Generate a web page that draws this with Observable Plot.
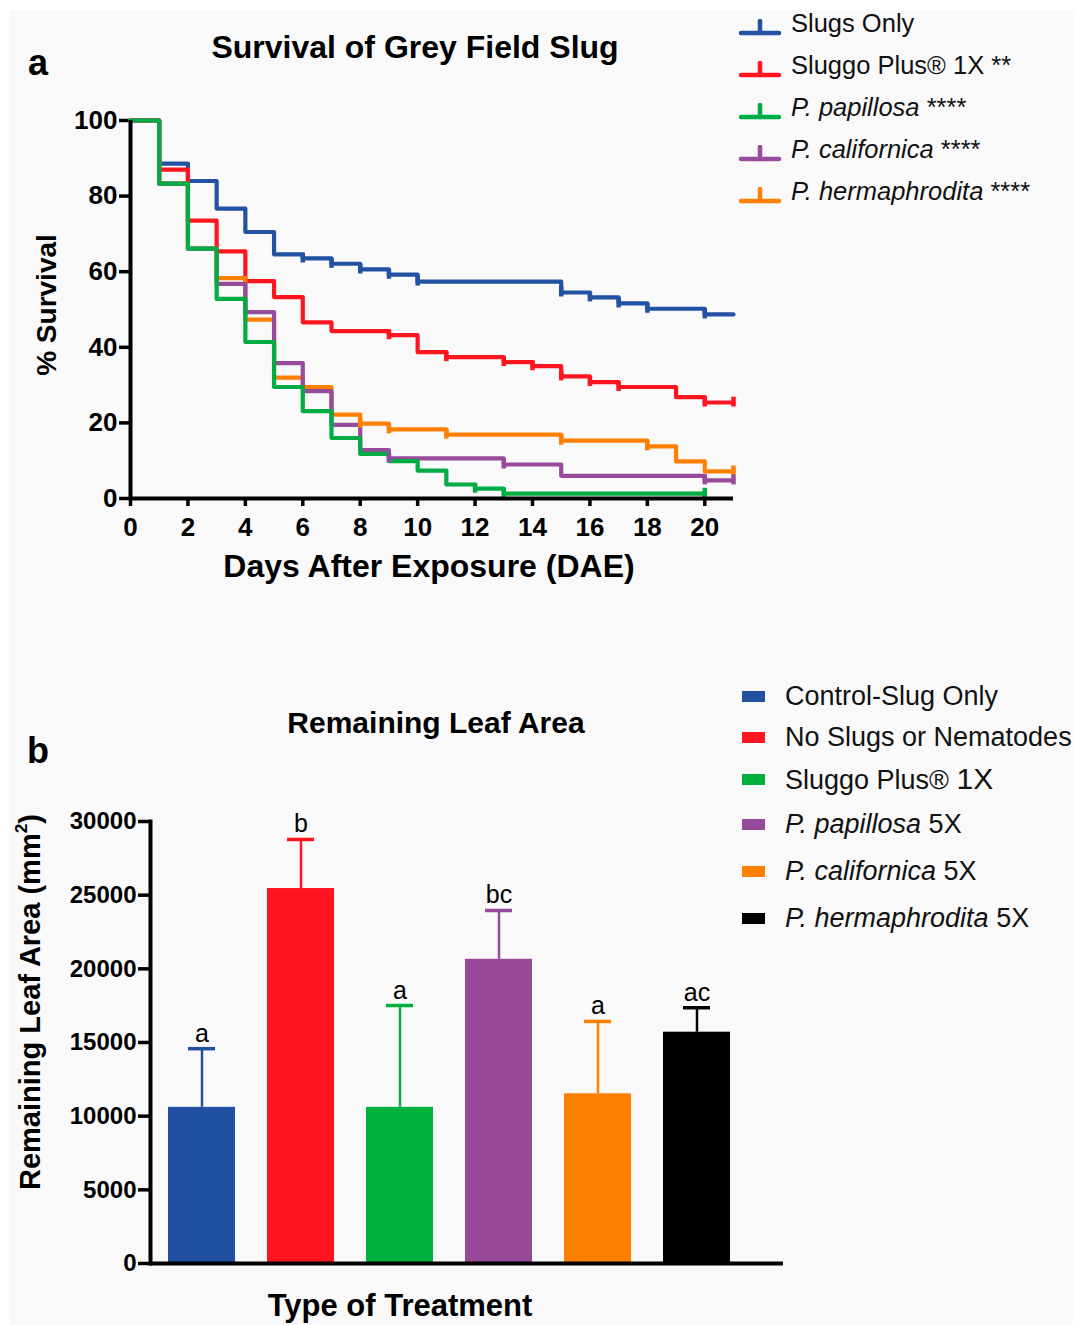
<!DOCTYPE html>
<html>
<head>
<meta charset="utf-8">
<script src="https://cdn.jsdelivr.net/npm/d3@7"></script>
<script src="https://cdn.jsdelivr.net/npm/@observablehq/plot@0.6"></script>
<style>
  body { margin: 0; background: #fff; font-family: Arial, "Liberation Sans", Helvetica, sans-serif; }
  #root { position: relative; width: 1073px; height: 1325px; overflow: hidden; background: #fff; }
  #bg { position: absolute; left: 9px; top: 10px; right: 0; bottom: 0; background: #f9f9fa; }
  .t { position: absolute; white-space: nowrap; line-height: 1; color: #000; transform: translate(-50%, -50%); }
  .rot { transform: translate(-50%, -50%) rotate(-90deg); }
  .lg { position: absolute; white-space: nowrap; line-height: 1; color: #111; transform: translateY(-50%); }
  .plotbox { position: absolute; }
</style>
</head>
<body>
<div id="root">
  <div id="bg"></div>
</div>
<script>
// ---------------- Panel a: survival data ----------------
const survSeries = ["Slugs Only", "Sluggo Plus® 1X", "P. papillosa", "P. californica", "P. hermaphrodita"];
const survSig = ["", "**", "****", "****", "****"];
const survColors = ["#2352a3", "#ff1520", "#00ac43", "#964b9b", "#ff8000"];

const slugsOnlyDays = [0, 1, 2, 3, 4, 5, 6, 7, 8, 9, 10, 15, 16, 17, 18, 20, 21];
const slugsOnlySurv = [100, 88.6, 84, 76.7, 70.5, 64.6, 63.5, 62.1, 60.6, 59.2, 57.4, 54.5, 53.2, 51.6, 50.2, 48.7, 48.7];
const slugsOnlyCensor = [6, 7, 8, 9, 10, 15, 16, 17, 18, 20];

const sluggoDays = [0, 1, 2, 3, 4, 5, 6, 7, 9, 10, 11, 13, 14, 15, 16, 17, 19, 20, 21];
const sluggoSurv = [100, 87, 73.5, 65.4, 57.5, 53.3, 46.6, 44.3, 43.2, 38.7, 37.4, 36.1, 35, 32.3, 30.8, 29.5, 26.8, 25.4, 25.4];
const sluggoCensor = [9, 11, 13, 14, 15, 16, 17, 20, 21];

const papillosaDays = [0, 1, 2, 3, 4, 5, 6, 7, 8, 9, 10, 11, 12, 13, 20];
const papillosaSurv = [100, 83.3, 66.1, 52.8, 41.4, 29.5, 23.1, 16, 11.8, 9.9, 7.4, 3.7, 2.6, 1.3, 1.3];
const papillosaCensor = [12, 13, 20];

const californicaDays = [0, 1, 2, 3, 4, 5, 6, 7, 8, 9, 13, 15, 20, 21];
const californicaSurv = [100, 83.3, 66.1, 56.8, 49.3, 35.8, 28.4, 19.5, 12.8, 10.6, 9, 6, 4.8, 4.8];
const californicaCensor = [9, 13, 20, 21];

const hermaphroditaDays = [0, 1, 2, 3, 4, 5, 6, 7, 8, 9, 11, 15, 18, 19, 20, 21];
const hermaphroditaSurv = [100, 83.3, 66.1, 58.3, 47.3, 32, 29.5, 22.2, 19.8, 18.3, 16.9, 15.3, 13.8, 9.8, 7.2, 7.2];
const hermaphroditaCensor = [8, 9, 11, 15, 18, 21];

const survXTicks = [0, 2, 4, 6, 8, 10, 12, 14, 16, 18, 20];
const survYTicks = [0, 20, 40, 60, 80, 100];

// ---------------- Panel b: leaf area data ----------------
const treatments = ["Control-Slug Only", "No Slugs or Nematodes", "Sluggo Plus® 1X", "P. papillosa 5X", "P. californica 5X", "P. hermaphrodita 5X"];
const leafMean = [10600, 25450, 10600, 20650, 11520, 15700];
const leafUpper = [14580, 28780, 17510, 23960, 16430, 17360];
const leafLetters = ["a", "b", "a", "bc", "a", "ac"];
const barColors = ["#2150a1", "#ff1420", "#00b03c", "#974a9a", "#ff7f00", "#000000"];
const leafYTicks = [0, 5000, 10000, 15000, 20000, 25000, 30000];

// ---------------- build tables ----------------
const survDays = [slugsOnlyDays, sluggoDays, papillosaDays, californicaDays, hermaphroditaDays];
const survVals = [slugsOnlySurv, sluggoSurv, papillosaSurv, californicaSurv, hermaphroditaSurv];
const survCensor = [slugsOnlyCensor, sluggoCensor, papillosaCensor, californicaCensor, hermaphroditaCensor];
const drawOrder = [0, 1, 4, 3, 2];

const survRows = [];
const censorRows = [];
for (const i of drawOrder) {
  survDays[i].forEach((d, j) => survRows.push({series: survSeries[i], day: d, surv: survVals[i][j]}));
  for (const c of survCensor[i]) {
    let v = survVals[i][0];
    survDays[i].forEach((d, j) => { if (d <= c) v = survVals[i][j]; });
    censorRows.push({series: survSeries[i], day: c, surv: v});
  }
}
const leafData = treatments.map((t, i) => ({treatment: t, mean: leafMean[i], upper: leafUpper[i], letter: leafLetters[i]}));

const FONT = 'Arial, "Liberation Sans", Helvetica, sans-serif';
const root = document.getElementById("root");

function addText(html, x, y, size, opts = {}) {
  const d = document.createElement("div");
  d.className = "t" + (opts.rot ? " rot" : "");
  d.style.left = x + "px";
  d.style.top = y + "px";
  d.style.fontSize = size + "px";
  d.style.fontWeight = opts.weight || "bold";
  d.innerHTML = html;
  root.appendChild(d);
}

// ---------------- Panel a plot ----------------
const plotA = Plot.plot({
  width: 760, height: 440,
  marginLeft: 130, marginRight: 27, marginTop: 20, marginBottom: 42,
  x: {domain: [0, 21]},
  y: {domain: [0, 100]},
  color: {domain: survSeries, range: survColors},
  style: {background: "transparent", fontFamily: FONT, fontSize: "26px", fontWeight: "bold", color: "#000", overflow: "visible"},
  marks: [
    Plot.axisX({ticks: survXTicks, tickSize: 8, tickPadding: 11, strokeWidth: 3.5, fontSize: 26, fontWeight: "bold", label: null, tickFormat: d => String(d)}),
    Plot.axisY({ticks: survYTicks, tickSize: 11, tickPadding: 2, strokeWidth: 3.5, fontSize: 26, fontWeight: "bold", label: null, tickFormat: d => String(d)}),
    Plot.line(survRows, {x: "day", y: "surv", z: "series", stroke: "series", strokeWidth: 4.2, curve: "step-after"}),
    Plot.ruleX(censorRows, {x: "day", y1: d => d.surv - 1.2, y2: d => d.surv + 1.4, stroke: "series", strokeWidth: 4.5}),
    Plot.ruleX([0], {strokeWidth: 4, stroke: "#000"}),
    Plot.ruleY([0], {strokeWidth: 4, stroke: "#000"})
  ]
});
const boxA = document.createElement("div");
boxA.className = "plotbox";
boxA.style.left = "0px"; boxA.style.top = "100px";
boxA.appendChild(plotA);
root.appendChild(boxA);

addText("a", 38, 63, 36);
addText("Survival of Grey Field Slug", 415, 47, 32);
addText("% Survival", 47, 305, 28, {rot: true});
addText("Days After Exposure (DAE)", 429, 566, 32);

// legend a
survSeries.forEach((s, i) => {
  const y = 24 + i * 42;
  const sym = document.createElementNS("http://www.w3.org/2000/svg", "svg");
  sym.setAttribute("width", 44); sym.setAttribute("height", 20);
  sym.style.position = "absolute";
  sym.style.left = "738px"; sym.style.top = (y - 5) + "px";
  sym.innerHTML = `<line x1="3" x2="41" y1="14" y2="14" stroke="${survColors[i]}" stroke-width="4.5" stroke-linecap="round"/>` +
                  `<line x1="22" x2="22" y1="2" y2="14" stroke="${survColors[i]}" stroke-width="4.5" stroke-linecap="round"/>`;
  root.appendChild(sym);
  const d = document.createElement("div");
  d.className = "lg";
  d.style.left = "791px"; d.style.top = y + "px"; d.style.fontSize = "25.5px";
  const name = s.startsWith("P. ") ? `<i>${s}</i>` : s;
  d.innerHTML = name + (survSig[i] ? " " + survSig[i] : "");
  root.appendChild(d);
});

// ---------------- Panel b plot ----------------
const plotB = Plot.plot({
  width: 800, height: 480,
  marginLeft: 150, marginRight: 17, marginTop: 21, marginBottom: 17,
  x: {domain: treatments, range: [150, 749], paddingInner: 0.32, paddingOuter: 0.18, axis: null},
  y: {domain: [0, 30000]},
  color: {domain: treatments, range: barColors},
  style: {background: "transparent", fontFamily: FONT, fontSize: "24px", fontWeight: "bold", color: "#000", overflow: "visible"},
  marks: [
    Plot.axisY({ticks: leafYTicks, tickSize: 12, tickPadding: 2, strokeWidth: 3.5, fontSize: 24, fontWeight: "bold", label: null, tickFormat: d => String(d)}),
    Plot.ruleX(leafData, {x: "treatment", y1: "mean", y2: "upper", stroke: "treatment", strokeWidth: 2.5}),
    Plot.tickY(leafData, {x: "treatment", y: "upper", stroke: "treatment", strokeWidth: 3.5, insetLeft: 20, insetRight: 20}),
    Plot.barY(leafData, {x: "treatment", y: "mean", fill: "treatment"}),
    Plot.text(leafData, {x: "treatment", y: "upper", text: "letter", lineAnchor: "bottom", dy: -7, fontSize: 25, fontWeight: "normal", fill: "#000"}),
    Plot.frame({anchor: "left", strokeWidth: 4, stroke: "#000"}),
    Plot.ruleY([0], {strokeWidth: 4, stroke: "#000"})
  ]
});
const boxB = document.createElement("div");
boxB.className = "plotbox";
boxB.style.left = "0px"; boxB.style.top = "800px";
boxB.appendChild(plotB);
root.appendChild(boxB);

addText("b", 38, 751, 36);
addText("Remaining Leaf Area", 436, 723, 30);
addText("Remaining Leaf Area (mm<sup style='font-size:0.6em;vertical-align:0.7em;line-height:0'>2</sup>)", 30, 1002, 29, {rot: true});
addText("Type of Treatment", 400, 1305, 31);

// legend b
const legBY = [696, 737, 779, 824, 871, 918];
treatments.forEach((t, i) => {
  const sq = document.createElement("div");
  sq.style.position = "absolute";
  sq.style.left = "742px"; sq.style.top = (legBY[i] - 5) + "px";
  sq.style.width = "23px"; sq.style.height = "11px";
  sq.style.background = barColors[i];
  root.appendChild(sq);
  const d = document.createElement("div");
  d.className = "lg";
  d.style.left = "785px"; d.style.top = legBY[i] + "px"; d.style.fontSize = "27px";
  let html = t;
  if (t.startsWith("P. ")) {
    const k = t.lastIndexOf(" ");
    html = `<i>${t.slice(0, k)}</i>${t.slice(k)}`;
  } else if (t.endsWith("1X")) {
    html = t.slice(0, -2) + `<span style="font-size:30px">1X</span>`;
  }
  d.innerHTML = html;
  root.appendChild(d);
});
</script>
</body>
</html>
